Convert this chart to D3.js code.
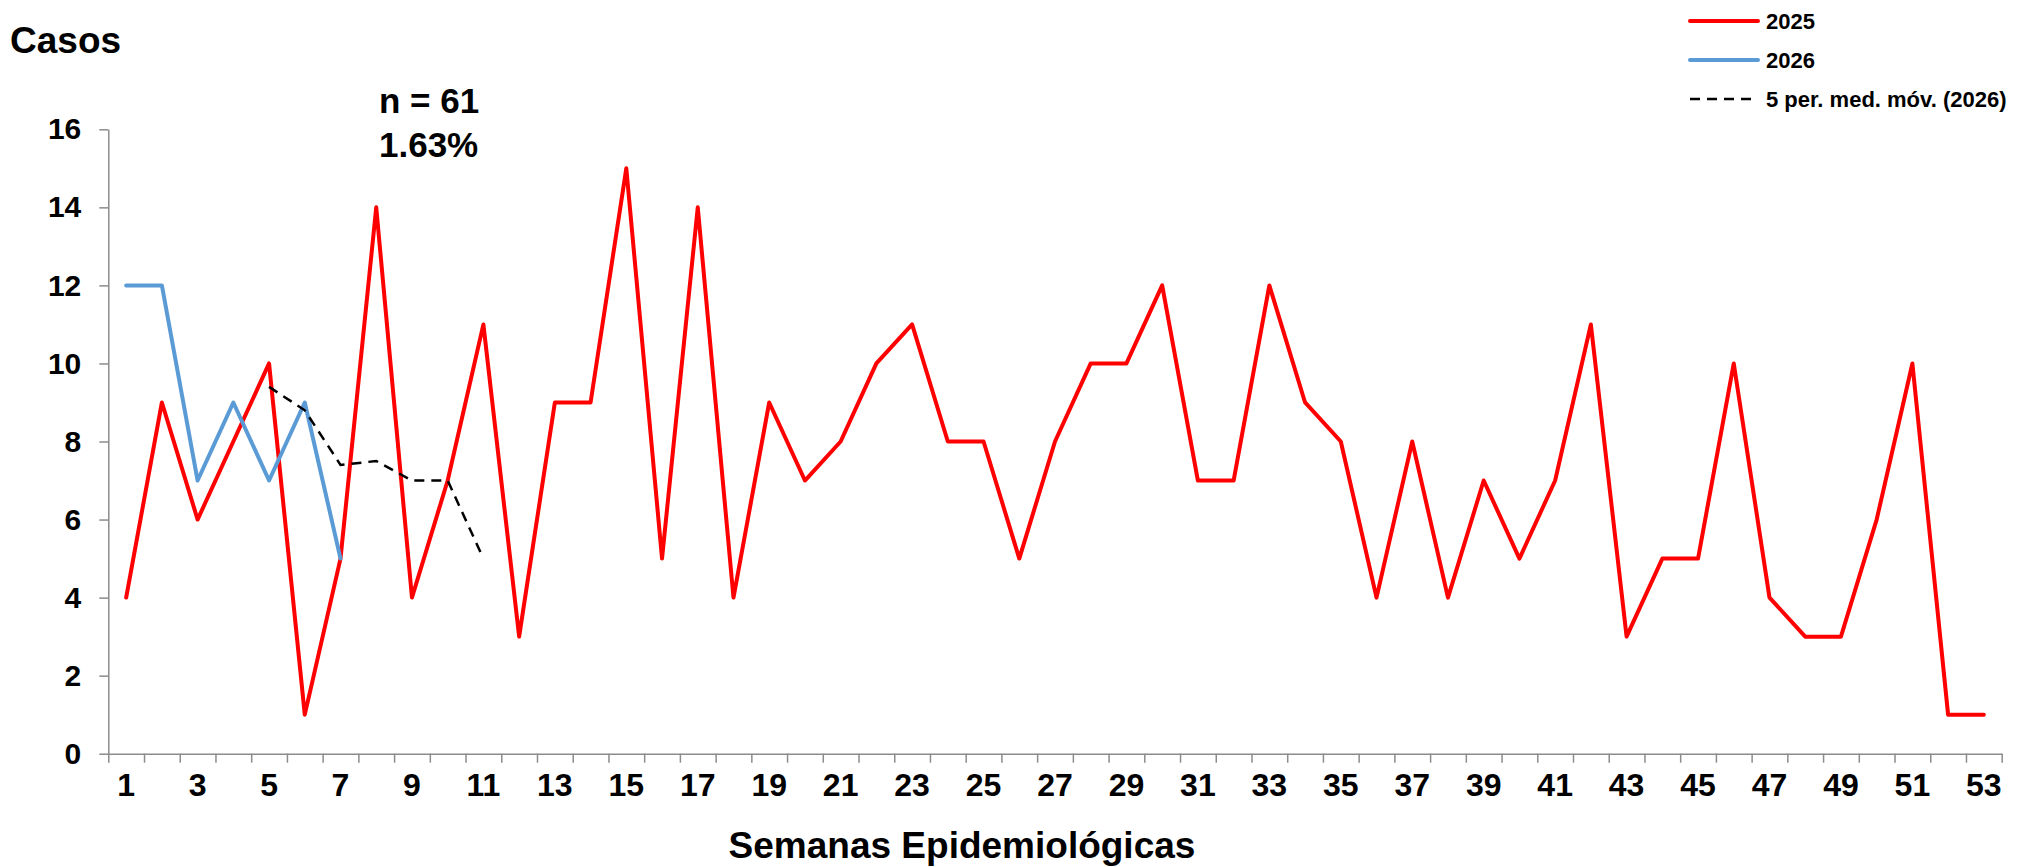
<!DOCTYPE html>
<html>
<head>
<meta charset="utf-8">
<title>Casos por semana epidemiológica</title>
<script src="https://cdn.jsdelivr.net/npm/d3@7"></script>
<style>
body {
  margin: 0px;
  background-color: #ffffff;
}
svg text {
  font-family: "Liberation Sans", Arial, sans-serif;
  font-weight: bold;
  fill: #000000;
}
.axis path,
.axis line {
  fill: none;
  stroke: #8c8c8c;
  stroke-width: 1.5px;
}
.y text { font-size: 30px; }
.x text { font-size: 32px; }
.legend text { font-size: 22px; }
</style>
</head>
<body>
<div class="target"></div>
<script>
// semanas 1..53
var weeks = d3.range(1, 54);
var cases2025 = [4, 9, 6, 8, 10, 1, 5, 14, 4, 7, 11, 3, 9, 9, 15, 5, 14, 4, 9, 7,
  8, 10, 11, 8, 8, 5, 8, 10, 10, 12, 7, 7, 12, 9, 8, 4, 8, 4, 7, 5,
  7, 11, 3, 5, 5, 10, 4, 3, 3, 6, 10, 1, 1];
var cases2026 = [12, 12, 7, 9, 7, 9, 5];
// media movil de 5 periodos, semanas 5..11
var movAvgWeeks = [5, 6, 7, 8, 9, 10, 11];
var movAvg2026 = [9.4, 8.8, 7.4, 7.5, 7, 7, 5];
var yTicks = [0, 2, 4, 6, 8, 10, 12, 14, 16];
var xLabels = weeks.filter(function(w) { return w % 2 == 1; });
var legendNames = ["2025", "2026", "5 per. med. móv. (2026)"];

var width = 2030, height = 867;

var svg = d3.select(".target")
  .append("svg")
    .attr("width", width)
    .attr("height", height);

var x = d3.scaleBand()
  .domain(weeks)
  .range([108.3, 2001.7])
  .padding(0);

var xEdges = d3.scaleLinear()
  .domain([0.5, 53.5])
  .range([108.3, 2001.7]);

var y = d3.scaleLinear()
  .domain([0, 16])
  .range([753.7, 129.3]);

function cx(w) { return x(w) + x.bandwidth() / 2; }

// eje y
svg.append("g")
  .attr("class", "y axis")
  .attr("transform", "translate(108.3,0)")
  .call(d3.axisLeft(y).tickValues(yTicks).tickSize(9).tickSizeOuter(0).tickPadding(18));

// eje x: marcas en los limites de cada semana
svg.append("g")
  .attr("class", "x axis")
  .attr("transform", "translate(0,753.7)")
  .call(d3.axisBottom(xEdges).tickValues(d3.range(0.5, 54, 1)).tickSize(9).tickSizeOuter(0).tickFormat(""));

svg.append("g")
  .attr("class", "x axis labels")
  .attr("transform", "translate(0,753.7)")
  .call(d3.axisBottom(x).tickValues(xLabels).tickSize(0).tickPadding(20))
  .call(function(g) { g.select(".domain").remove(); })
  .selectAll("text").attr("dy", "0.71em");

var line = d3.line()
  .x(function(d) { return cx(d[0]); })
  .y(function(d) { return y(d[1]); });

svg.append("path")
  .datum(d3.zip(weeks, cases2025))
  .attr("fill", "none")
  .attr("stroke", "#ff0000")
  .attr("stroke-width", 4)
  .attr("stroke-linejoin", "round")
  .attr("stroke-linecap", "round")
  .attr("d", line);

svg.append("path")
  .datum(d3.zip(weeks.slice(0, cases2026.length), cases2026))
  .attr("fill", "none")
  .attr("stroke", "#5b9bd5")
  .attr("stroke-width", 4)
  .attr("stroke-linejoin", "round")
  .attr("stroke-linecap", "round")
  .attr("d", line);

svg.append("path")
  .datum(d3.zip(movAvgWeeks, movAvg2026))
  .attr("fill", "none")
  .attr("stroke", "#000000")
  .attr("stroke-width", 2.5)
  .attr("stroke-dasharray", "10,7")
  .attr("d", line);

// textos
svg.append("text")
  .attr("x", 10).attr("y", 53)
  .style("font-size", "37px")
  .text("Casos");

svg.append("text")
  .attr("x", 379).attr("y", 113)
  .style("font-size", "35px")
  .text("n = 61");

svg.append("text")
  .attr("x", 379).attr("y", 157)
  .style("font-size", "35px")
  .text("1.63%");

svg.append("text")
  .attr("x", 962).attr("y", 858)
  .attr("text-anchor", "middle")
  .style("font-size", "37px")
  .text("Semanas Epidemiológicas");

// leyenda
var legendStyles = [
  {color: "#ff0000", w: 4, dash: null},
  {color: "#5b9bd5", w: 4, dash: null},
  {color: "#000000", w: 2.5, dash: "10,7"}
];
var legend = svg.append("g").attr("class", "legend");
legendNames.forEach(function(name, i) {
  var ly = 21 + i * 39;
  legend.append("line")
    .attr("x1", 1690).attr("x2", 1758)
    .attr("y1", ly).attr("y2", ly)
    .attr("stroke", legendStyles[i].color)
    .attr("stroke-width", legendStyles[i].w)
    .attr("stroke-dasharray", legendStyles[i].dash)
    .attr("stroke-linecap", legendStyles[i].dash ? "butt" : "round");
  legend.append("text")
    .attr("x", 1766).attr("y", ly + 8)
    .text(name);
});
</script>
</body>
</html>
